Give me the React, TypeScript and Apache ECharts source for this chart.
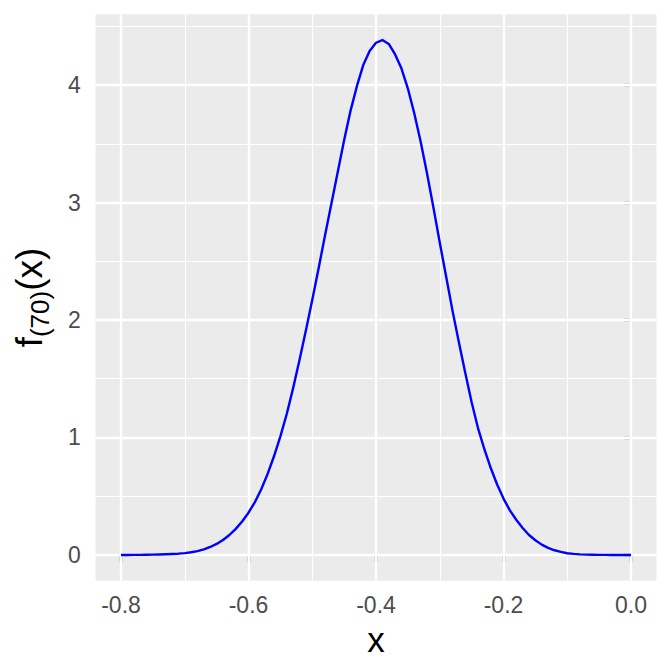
import React, { useEffect, useRef } from "react";
import * as echarts from "echarts";

// x positions (step 0.01) and density values
const xValues = [
  -0.8, -0.79, -0.78, -0.77, -0.76, -0.75, -0.74, -0.73, -0.72, -0.71,
  -0.7, -0.69, -0.68, -0.67, -0.66, -0.65, -0.64, -0.63, -0.62, -0.61,
  -0.6, -0.59, -0.58, -0.57, -0.56, -0.55, -0.54, -0.53, -0.52, -0.51,
  -0.5, -0.49, -0.48, -0.47, -0.46, -0.45, -0.44, -0.43, -0.42, -0.41,
  -0.4, -0.39, -0.38, -0.37, -0.36, -0.35, -0.34, -0.33, -0.32, -0.31,
  -0.3, -0.29, -0.28, -0.27, -0.26, -0.25, -0.24, -0.23, -0.22, -0.21,
  -0.2, -0.19, -0.18, -0.17, -0.16, -0.15, -0.14, -0.13, -0.12, -0.11,
  -0.1, -0.09, -0.08, -0.07, -0.06, -0.05, -0.04, -0.03, -0.02, -0.01,
  0.0,
];
const densityValues = [
  0.0, 0.0, 0.001, 0.001, 0.002, 0.003, 0.004, 0.006, 0.008, 0.011,
  0.016, 0.023, 0.033, 0.048, 0.068, 0.094, 0.128, 0.17, 0.222, 0.285,
  0.36, 0.45, 0.56, 0.69, 0.84, 1.01, 1.2, 1.42, 1.66, 1.91,
  2.17, 2.44, 2.72, 2.99, 3.26, 3.53, 3.78, 3.99, 4.17, 4.29,
  4.36, 4.383, 4.35, 4.26, 4.14, 3.97, 3.76, 3.52, 3.25, 2.96,
  2.66, 2.37, 2.08, 1.81, 1.55, 1.3, 1.08, 0.9, 0.74, 0.6,
  0.48, 0.38, 0.3, 0.23, 0.17, 0.125, 0.088, 0.06, 0.04, 0.026,
  0.015, 0.009, 0.005, 0.003, 0.002, 0.001, 0.0005, 0.0002, 0.0001, 0.0,
  0.0,
];

const xTickValues = [-0.8, -0.6, -0.4, -0.2, 0.0];
const xTickLabels = ["-0.8", "-0.6", "-0.4", "-0.2", "0.0"];
const xMinorValues = [-0.7, -0.5, -0.3, -0.1];
const yTickValues = [0, 1, 2, 3, 4];
const yTickLabels = ["0", "1", "2", "3", "4"];
const yMinorValues = [0.5, 1.5, 2.5, 3.5, 4.5];
const xRange = [-0.84, 0.04];
const yRange = [-0.219, 4.602];

const FONT = "'Liberation Sans', Arial, Helvetica, sans-serif";
const MAJOR_W = 2.3;
const MINOR_W = 1.15;

export default function App() {
  const ref = useRef<HTMLDivElement>(null);

  useEffect(() => {
    if (!ref.current) return;
    const chart = echarts.init(ref.current, undefined, { renderer: "svg" });

    const lineData = xValues.map((x, i) => [x, densityValues[i]]);

    const gridLines = [
      ...xMinorValues.map((v) => ({ xAxis: v, lineStyle: { width: MINOR_W } })),
      ...yMinorValues.map((v) => ({ yAxis: v, lineStyle: { width: MINOR_W } })),
      ...xTickValues.map((v) => ({ xAxis: v, lineStyle: { width: MAJOR_W } })),
      ...yTickValues.map((v) => ({ yAxis: v, lineStyle: { width: MAJOR_W } })),
    ];

    const xLabel = (v: number) => {
      const i = xTickValues.findIndex((t) => Math.abs(t - v) < 1e-9);
      return i >= 0 ? xTickLabels[i] : "";
    };
    const yLabel = (v: number) => {
      const i = yTickValues.findIndex((t) => Math.abs(t - v) < 1e-9);
      return i >= 0 ? yTickLabels[i] : "";
    };

    chart.setOption({
      animation: false,
      backgroundColor: "#FFFFFF",
      grid: {
        show: true,
        left: 95.5,
        top: 14.3,
        width: 561,
        height: 566.4,
        backgroundColor: "#EBEBEB",
        borderWidth: 0,
      },
      xAxis: {
        type: "value",
        min: xRange[0],
        max: xRange[1],
        axisLine: { show: false },
        splitLine: { show: false },
        axisTick: {
          show: true,
          length: 7.3,
          customValues: xTickValues,
          lineStyle: { color: "#333333", width: MAJOR_W },
        },
        axisLabel: {
          customValues: xTickValues,
          formatter: xLabel,
          margin: 13,
          fontSize: 23,
          fontFamily: FONT,
          color: "#4D4D4D",
        },
        name: "x",
        nameLocation: "middle",
        nameGap: 39.5,
        nameTextStyle: { fontSize: 35, fontFamily: FONT, color: "#000000" },
      },
      yAxis: {
        type: "value",
        min: yRange[0],
        max: yRange[1],
        axisLine: { show: false },
        splitLine: { show: false },
        axisTick: {
          show: true,
          length: 7.3,
          customValues: yTickValues,
          lineStyle: { color: "#333333", width: MAJOR_W },
        },
        axisLabel: {
          customValues: yTickValues,
          formatter: yLabel,
          margin: 14.8,
          fontSize: 23,
          fontFamily: FONT,
          color: "#4D4D4D",
        },
        name: "{f|f}{s|(70)}{f|(x)}",
        nameLocation: "middle",
        nameRotate: 90,
        nameGap: 43,
        nameTextStyle: {
          fontFamily: FONT,
          color: "#000000",
          rich: {
            f: {
              fontSize: 37,
              fontFamily: FONT,
              color: "#000000",
              verticalAlign: "bottom",
              padding: [0, 0, 5, 0],
            },
            s: {
              fontSize: 26,
              fontFamily: FONT,
              color: "#000000",
              verticalAlign: "bottom",
            },
          },
        },
      },
      series: [
        {
          type: "line",
          data: [],
          z: 1,
          silent: true,
          markLine: {
            z: 1,
            silent: true,
            symbol: ["none", "none"],
            label: { show: false },
            emphasis: { disabled: true },
            lineStyle: { color: "#FFFFFF", type: "solid" },
            data: gridLines,
          },
        },
        {
          type: "line",
          data: lineData,
          z: 4,
          showSymbol: false,
          smooth: false,
          lineStyle: { color: "#0000FF", width: 2.4, join: "round" },
          silent: true,
        },
      ],
    });

    return () => chart.dispose();
  }, []);

  return (
    <div
      ref={ref}
      style={{ position: "absolute", left: 0, top: 0, width: 672, height: 672 }}
    />
  );
}
